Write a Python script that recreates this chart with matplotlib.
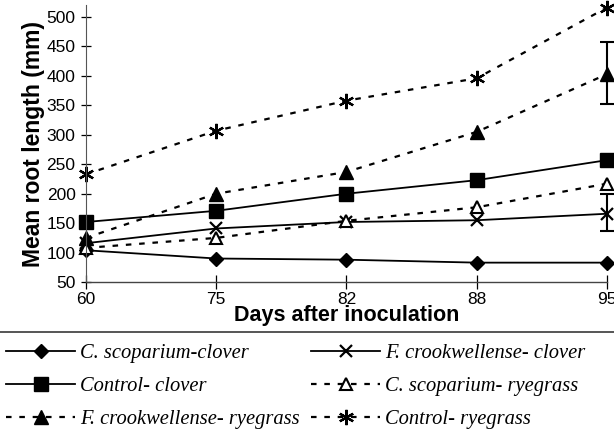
import matplotlib.pyplot as plt
from matplotlib.lines import Line2D
import numpy as np

days = ['60', '75', '82', '88', '95']

cs_clover = [104, 90, 88, 83, 83]
fc_clover = [116, 141, 152, 155, 166]
ctrl_clover = [152, 171, 200, 223, 257]
cs_rye = [108, 125, 154, 177, 217]
fc_rye = [125, 200, 237, 305, 403]
ctrl_rye = [233, 307, 358, 396, 516]

# error bars only at the last sampling day (low, high)
fc_clover_err = [136, 199]
fc_rye_err = [352, 457]

fig = plt.figure(figsize=(6.14, 4.38), dpi=100)
ax = fig.add_axes([0.140, 0.356, 0.8485, 0.632])

x = np.arange(len(days))
dash = (0, (2.5, 3.5))

l1, = ax.plot(x, cs_clover, color='black', lw=1.3, marker='D', ms=7.5, clip_on=False)
l2, = ax.plot(x, fc_clover, color='black', lw=1.3, marker='x', ms=9, mew=1.6, clip_on=False)
l3, = ax.plot(x, ctrl_clover, color='black', lw=1.3, marker='s', ms=9.5, clip_on=False)
l4, = ax.plot(x, cs_rye, color='black', lw=1.6, ls=dash, marker='^', ms=9,
              mfc='white', mew=1.5, clip_on=False)
l5, = ax.plot(x, fc_rye, color='black', lw=1.6, ls=dash, marker='^', ms=10, clip_on=False)
l6, = ax.plot(x, ctrl_rye, color='black', lw=1.6, ls=dash, marker=(6, 2, 0), ms=11,
              mew=1.6, clip_on=False)

for vals, err in [(fc_clover, fc_clover_err), (fc_rye, fc_rye_err)]:
    ax.errorbar(x[-1], vals[-1], yerr=[[vals[-1] - err[0]], [err[1] - vals[-1]]],
                color='black', lw=1.5, capsize=5, capthick=1.5, clip_on=False)

ax.set_xlim(0, 4)
ax.set_ylim(50, 520)
ax.set_yticks(range(50, 501, 50))
ax.set_xticks(x)
ax.set_xticklabels(days)

for s in ['top', 'right']:
    ax.spines[s].set_visible(False)
ax.spines['left'].set_color('#555555')
ax.spines['left'].set_linewidth(0.8)
ax.spines['bottom'].set_linewidth(1.0)
ax.spines['bottom'].set_color('#444444')

ax.tick_params(axis='x', direction='inout', length=10, width=0.9, pad=2, labelsize=12.5)
ax.tick_params(axis='y', direction='inout', length=7, width=0.9, pad=4, labelsize=12.5)
for t in ax.get_xticklabels() + ax.get_yticklabels():
    t.set_family('Liberation Sans')

ax.set_xlabel('Days after inoculation', fontsize=15.5, fontweight='bold',
              family='Liberation Sans', labelpad=-1)
ax.set_ylabel('Mean root length (mm)', fontsize=16.5, fontweight='bold',
              family='Liberation Sans', labelpad=1)

fig.add_artist(Line2D([0, 1], [0.2420, 0.2420], color='#555555', lw=1.4))

handles = [l1, l3, l5, l2, l4, l6]
labels = ['C. scoparium-clover', 'Control- clover', 'F. crookwellense- ryegrass',
          'F. crookwellense- clover', 'C. scoparium- ryegrass', 'Control- ryegrass']
fig.legend(handles, labels, ncol=2, loc='upper left', bbox_to_anchor=(0.0, 0.230),
           frameon=False, handlelength=3.35, handletextpad=0.25, columnspacing=0.55,
           labelspacing=0.67, borderaxespad=0, borderpad=0.3,
           prop={'family': 'Liberation Serif', 'style': 'italic', 'size': 14.8})

fig.savefig('out.png', dpi=100)
